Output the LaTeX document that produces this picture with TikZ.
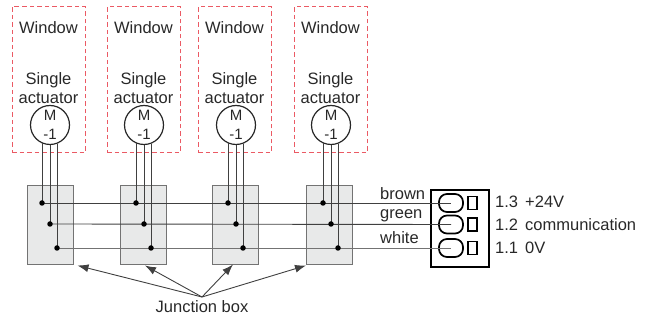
\documentclass[tikz,border=0pt]{standalone}
\usepackage{fontspec}
\setmainfont{Liberation Sans}
\usetikzlibrary{arrows.meta}
\definecolor{winred}{RGB}{235,90,100}
\definecolor{boxgray}{RGB}{232,233,233}
\definecolor{txtgray}{RGB}{40,40,40}
\tikzset{
  lbl/.style={font=\fontsize{16.5}{19}\selectfont, text=txtgray, inner sep=0pt, align=center},
  winbox/.style={draw=winred, dash pattern=on 4.5pt off 3pt, line width=1pt, inner sep=0pt, minimum width=73pt, minimum height=146pt},
  motor/.style={circle, draw=black!85, line width=1.2pt, minimum size=39pt, inner sep=0pt, font=\fontsize{15}{19}\selectfont, align=center, text=txtgray},
  jbox/.style={draw=black!55, fill=boxgray, line width=1pt, inner sep=0pt, minimum width=46pt, minimum height=79pt},
  wire/.style={draw=black!75, line width=0.9pt},
  tap/.style={circle, fill=black, inner sep=0pt, minimum size=5.5pt},
  conbox/.style={draw=black, line width=1.6pt, inner sep=0pt, minimum width=58pt, minimum height=77pt},
  plugpill/.style={draw=black, line width=1.7pt, rounded corners=8pt, inner sep=0pt, minimum width=24pt, minimum height=18pt},
  socket/.style={draw=black, line width=1.3pt, inner sep=0pt, minimum width=9pt, minimum height=13pt},
  pointer/.style={draw=black!75, line width=0.9pt, -{Latex[length=11pt,width=8pt]}},
}
\begin{document}
\begin{tikzpicture}[x=1pt,y=-1pt]
\useasboundingbox (0,0) rectangle (654,320);
%-------->windows<--------------
\node[winbox] (w1) at (48.5,80) {};
\node[winbox] (w2) at (143.5,80) {};
\node[winbox] (w3) at (234.5,80) {};
\node[winbox] (w4) at (330.5,80) {};
\node[lbl] (wl1) at (48.5,28) {Window};
\node[lbl] (wl2) at (143.5,28) {Window};
\node[lbl] (wl3) at (234.5,28) {Window};
\node[lbl] (wl4) at (330.5,28) {Window};
\node[lbl] (al1) at (48.5,88) {Single\\actuator};
\node[lbl] (al2) at (143.5,88) {Single\\actuator};
\node[lbl] (al3) at (234.5,88) {Single\\actuator};
\node[lbl] (al4) at (330.5,88) {Single\\actuator};
%-------->motors<--------------
\node[motor] (m1) at (50,125) {M\\-1};
\node[motor] (m2) at (144,125) {M\\-1};
\node[motor] (m3) at (236,125) {M\\-1};
\node[motor] (m4) at (331,125) {M\\-1};
%-------->junction boxes<--------------
\node[jbox] (j1) at (50,225.5) {};
\node[jbox] (j2) at (143.5,225.5) {};
\node[jbox] (j3) at (235.5,225.5) {};
\node[jbox] (j4) at (329.5,225.5) {};
%-------->connector<--------------
\node[conbox] (con) at (460,228.5) {};
\node[plugpill] (p1) at (451,203) {};
\node[plugpill] (p2) at (451,224.5) {};
\node[plugpill] (p3) at (451,248) {};
\node[socket] (s1) at (472.5,203) {};
\node[socket] (s2) at (472.5,224.5) {};
\node[socket] (s3) at (472.5,248) {};
%-------->taps<--------------
\coordinate (d1a) at (42,203);  \coordinate (d1b) at (50,224);  \coordinate (d1c) at (57,248);
\coordinate (d2a) at (136,203); \coordinate (d2b) at (144,224); \coordinate (d2c) at (151,248);
\coordinate (d3a) at (228,203); \coordinate (d3b) at (236,224); \coordinate (d3c) at (243,248);
\coordinate (d4a) at (323,203); \coordinate (d4b) at (331,224); \coordinate (d4c) at (338,248);
%-------->bus lines<--------------
\draw[wire] (d1a) -- (p1.center);
\draw[wire] (d1b) -- (p2.center);
\draw[wire, draw=black!55] (d1c) -- (p3.center);
%-------->motor wires<--------------
\draw[wire] (d1a |- m1.246) -- (d1a); \draw[wire] (m1.south) -- (d1b); \draw[wire] (d1c |- m1.290) -- (d1c);
\draw[wire] (d2a |- m2.246) -- (d2a); \draw[wire] (m2.south) -- (d2b); \draw[wire] (d2c |- m2.290) -- (d2c);
\draw[wire] (d3a |- m3.246) -- (d3a); \draw[wire] (m3.south) -- (d3b); \draw[wire] (d3c |- m3.290) -- (d3c);
\draw[wire] (d4a |- m4.246) -- (d4a); \draw[wire] (m4.south) -- (d4b); \draw[wire] (d4c |- m4.290) -- (d4c);
\node[tap] at (d1a) {}; \node[tap] at (d1b) {}; \node[tap] at (d1c) {};
\node[tap] at (d2a) {}; \node[tap] at (d2b) {}; \node[tap] at (d2c) {};
\node[tap] at (d3a) {}; \node[tap] at (d3b) {}; \node[tap] at (d3c) {};
\node[tap] at (d4a) {}; \node[tap] at (d4b) {}; \node[tap] at (d4c) {};
%-------->wire colours<--------------
\node[lbl, anchor=west] (cbrown) at (380,194) {brown};
\node[lbl, anchor=west] (cgreen) at (380,216) {green};
\node[lbl, anchor=west] (cwhite) at (380,238) {white};
%-------->terminals<--------------
\node[lbl, anchor=west] (t13) at (495,202) {1.3};
\node[lbl, anchor=west] (t12) at (495,225) {1.2};
\node[lbl, anchor=west] (t11) at (495,248) {1.1};
\node[lbl, anchor=west] (v24) at (525,202) {+24V};
\node[lbl, anchor=west] (vcom) at (525,225) {communication};
\node[lbl, anchor=west] (v0) at (525,248) {0V};
%-------->junction box label<--------------
\node[lbl] (jlbl) at (202,307) {Junction box};
\coordinate (jtip) at (202,297);
\draw[pointer] (jtip) -- ([xshift=4pt]j1.south east);
\draw[pointer] (jtip) -- ([xshift=1.5pt]j2.south);
\draw[pointer] (jtip) -- ([xshift=-2.5pt,yshift=1pt]j3.south);
\draw[pointer] (jtip) -- (j4.south west);
\end{tikzpicture}
\end{document}
